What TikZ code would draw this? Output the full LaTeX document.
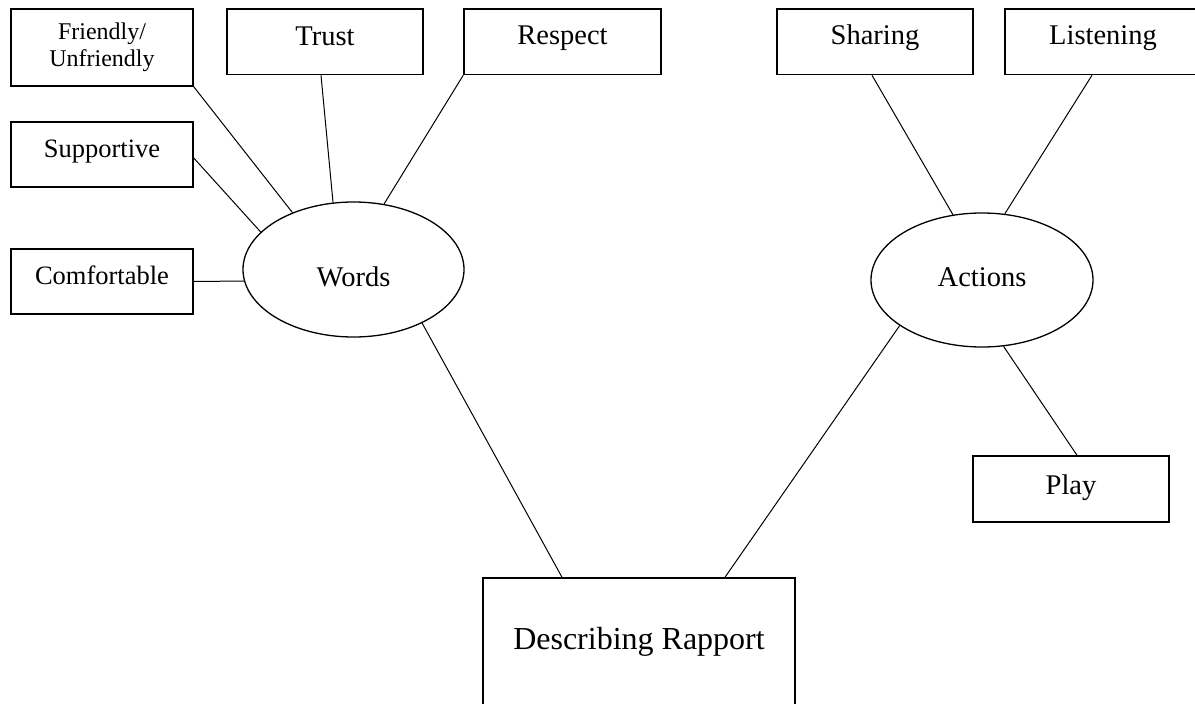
\documentclass[tikz,border=0pt]{standalone}
\usepackage{fontspec}
\setmainfont{Liberation Serif}
\usetikzlibrary{shapes.geometric}
\newcommand{\fsz}[1]{\fontsize{#1}{#1}\selectfont}
\begin{document}
\begin{tikzpicture}[x=1pt,y=-1pt,
  box/.style={draw, line width=1.5pt, rectangle, inner sep=0pt, anchor=base, font=\fsz{28.5}},
  oval/.style={draw, line width=1.3pt, ellipse, inner sep=0pt, anchor=base, font=\fsz{28.5}},
  link/.style={line width=1pt}]
\fill[white] (0,0) rectangle (1195,704);
\useasboundingbox (0,0) rectangle (1195,704);
\clip (0,0) rectangle (1195,704);

% Words side
\node[draw, line width=1.5pt, inner sep=0pt, minimum width=182, minimum height=77,
      align=center, font={\fontsize{24}{27}\selectfont}] (friendly) at (102,47.5) {Friendly/\\Unfriendly};
\node[box, minimum width=196, text height=36.7, text depth=28.8] (trust) at (325,45.7) {Trust};
\node[box, minimum width=197, text height=36, text depth=29.5] (respect) at (562.5,45) {Respect};
\node[box, minimum width=182, text height=35, text depth=30, font=\fsz{26.5}] (supportive) at (102,157) {Supportive};
\node[box, minimum width=182, text height=35, text depth=30, font=\fsz{26.5}] (comfortable) at (102,284) {Comfortable};
\node[oval, minimum width=221, minimum height=135, text height=33, text depth=0] (words) at (353.5,286) {Words};

% Actions side
\node[box, minimum width=196, text height=36, text depth=29.5] (sharing) at (875,45) {Sharing};
\node[box, minimum width=196, text height=36, text depth=29.5] (listening) at (1103,45) {Listening};
\node[oval, minimum width=222, minimum height=134, text height=12, text depth=0] (actions) at (982,286) {Actions};
\node[box, minimum width=196, text height=38, text depth=28] (play) at (1071,494) {Play};

% Root
\node[box, minimum width=312, text height=71, text depth=63, font=\fsz{32}] (describing) at (639,649) {Describing Rapport};

% Connectors
\draw[link] (comfortable.east) -- (words.186);
\draw[link] ([yshift=-3.5pt]supportive.east) -- (words.158);
\draw[link] (friendly.south east) -- (words.137);
\draw[link] ([xshift=-4pt]trust.south) -- (words.107);
\draw[link] (respect.south west) -- (words.65);
\draw[link] (words.-38) -- ([xshift=-77pt]describing.north);
\draw[link] ([xshift=-3pt]sharing.south) -- (actions.114);
\draw[link] ([xshift=-11pt]listening.south) -- (actions.71);
\draw[link] (actions.209) -- ([xshift=86pt]describing.north);
\draw[link] (actions.288) -- ([xshift=6pt]play.north);
\end{tikzpicture}
\end{document}
